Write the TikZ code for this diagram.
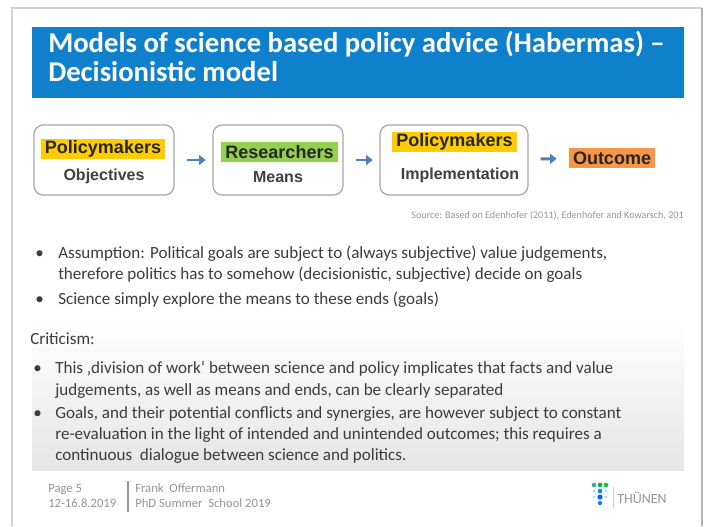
\documentclass[tikz,border=0pt]{standalone}
\usepackage{fontspec}
\setmainfont{Carlito}
\newfontfamily\arialfont{Liberation Sans}
\usetikzlibrary{arrows.meta}
\definecolor{titleblue}{RGB}{14,128,204}
\definecolor{hlyellow}{RGB}{255,204,0}
\definecolor{hlgreen}{RGB}{146,208,80}
\definecolor{hlorange}{RGB}{247,150,70}
\definecolor{arrowblue}{RGB}{79,129,189}
\definecolor{bodytext}{RGB}{60,60,60}
\definecolor{foottext}{RGB}{150,150,150}

\begin{document}
\begin{tikzpicture}[x=0.75pt,y=-0.75pt,
    stagebox/.style={draw=gray!70,line width=0.9pt,rounded corners=7pt,minimum height=52.5pt,inner sep=0pt},
    actor/.style={font=\arialfont\bfseries\fontsize{13.5}{15}\selectfont,text=black!85,inner xsep=3pt,inner ysep=0pt,minimum height=15pt},
    task/.style={font=\arialfont\bfseries\fontsize{12}{14}\selectfont,text=black!75},
    flow/.style={draw=arrowblue,line width=2.2pt,-{Triangle[length=5pt,width=7.5pt]},shorten <=9pt,shorten >=5pt},
    titletxt/.style={anchor=base west,inner sep=0pt,text=white,font=\bfseries\fontsize{21.5}{25}\selectfont},
    bodytxt/.style={anchor=base west,inner sep=0pt,text=bodytext,font=\fontsize{12.8}{15}\selectfont},
    foot/.style={anchor=base west,inner sep=0pt,text=foottext,font=\fontsize{9.5}{11}\selectfont}]
    \useasboundingbox (0,0) rectangle (710,526);
    \fill[white] (0,0) rectangle (710,526);
    \draw[gray!35,line width=0.8pt] (12,526) -- (12,8) -- (702,8);
    \draw[gray!60,line width=1.4pt] (702,8) -- (702,526);

    \fill[titleblue] (32,27) rectangle (684,98);
    \node[titletxt] (title1) at (48,52) {Models of science based policy advice (Habermas) –};
    \node[titletxt] (title2) at (48,81) {Decisionistic model};

    \node[stagebox,minimum width=105pt] (box1) at (104,160) {};
    \node[stagebox,minimum width=97.5pt] (box2) at (278,160) {};
    \node[stagebox,minimum width=111pt] (box3) at (454,160) {};
    \node[actor,fill=hlyellow] (pm1) at (103,148.5) {Policymakers};
    \node[actor,fill=hlgreen] (res) at (279.5,152) {Researchers};
    \node[actor,fill=hlyellow] (pm2) at (454.5,142) {Policymakers};
    \node[actor,fill=hlorange] (out) at (612,158) {Outcome};
    \node[task] (obj) at (104,176) {Objectives};
    \node[task] (means) at (278,177) {Means};
    \node[task] (impl) at (460,175) {Implementation};

    \draw[flow] (box1) -- (box2);
    \draw[flow] (box2) -- (box3);
    \draw[flow,shorten >=9pt] (box3) -- (out);

    \node[anchor=east,inner sep=0pt,text=foottext,font=\fontsize{7.6}{9}\selectfont] (src) at (684,215) {Source: Based on Edenhofer (2011), Edenhofer and Kowarsch, 201};

    \foreach \y/\txt in {258/{Assumption: Political goals are subject to (always subjective) value judgements,},
        279/{therefore politics has to somehow (decisionistic, subjective) decide on goals},
        304/{Science simply explore the means to these ends (goals)}} {
        \node[bodytxt] (a\y) at (58,\y) {\txt};
    }
    \foreach \y in {258,304} {
        \node[bodytxt] (ab\y) at (35,\y) {•};
    }

    \shade[top color=white,bottom color=gray!20] (32,322) rectangle (684,470);
    \node[bodytxt] (crit) at (30,344) {Criticism:};
    \foreach \y/\txt in {373/{This ‚division of work‘ between science and policy implicates that facts and value},
        395/{judgements, as well as means and ends, can be clearly separated},
        418/{Goals, and their potential conflicts and synergies, are however subject to constant},
        439/{re-evaluation in the light of intended and unintended outcomes; this requires a},
        460/{continuous\ \ dialogue between science and politics.}} {
        \node[bodytxt] (c\y) at (55,\y) {\txt};
    }
    \foreach \y in {373,418} {
        \node[bodytxt] (cb\y) at (33,\y) {•};
    }

    \node[foot] (page) at (48,492) {Page 5};
    \node[foot] (date) at (48,507) {12-16.8.2019};
    \draw[foottext,line width=1.2pt] (128,481) -- (128,512);
    \node[foot] (name) at (135,492) {Frank\ \ Offermann};
    \node[foot] (school) at (135,507) {PhD Summer\ \ School 2019};

    \foreach \x/\y/\r/\c in {594/485/2.3/teal!70, 600/485/2.3/teal!60!green, 606/485/2.3/green!60!teal,
        594/491/1.3/cyan!50, 600/491/2.3/cyan!70!blue, 606/491/1.3/cyan!40,
        594/497/1.3/cyan!40, 600/497/2.6/blue!60!cyan, 606/497/1.3/cyan!40, 600/503/2.1/blue!50!cyan} {
        \fill[\c] (\x,\y) circle (\r);
    }
    \draw[gray!40,line width=0.6pt] (613,487) -- (613,508);
    \node[anchor=west,inner sep=0pt,text=foottext,font=\fontsize{10.5}{12}\selectfont] (logo) at (617,498) {THÜNEN};
\end{tikzpicture}
\end{document}
